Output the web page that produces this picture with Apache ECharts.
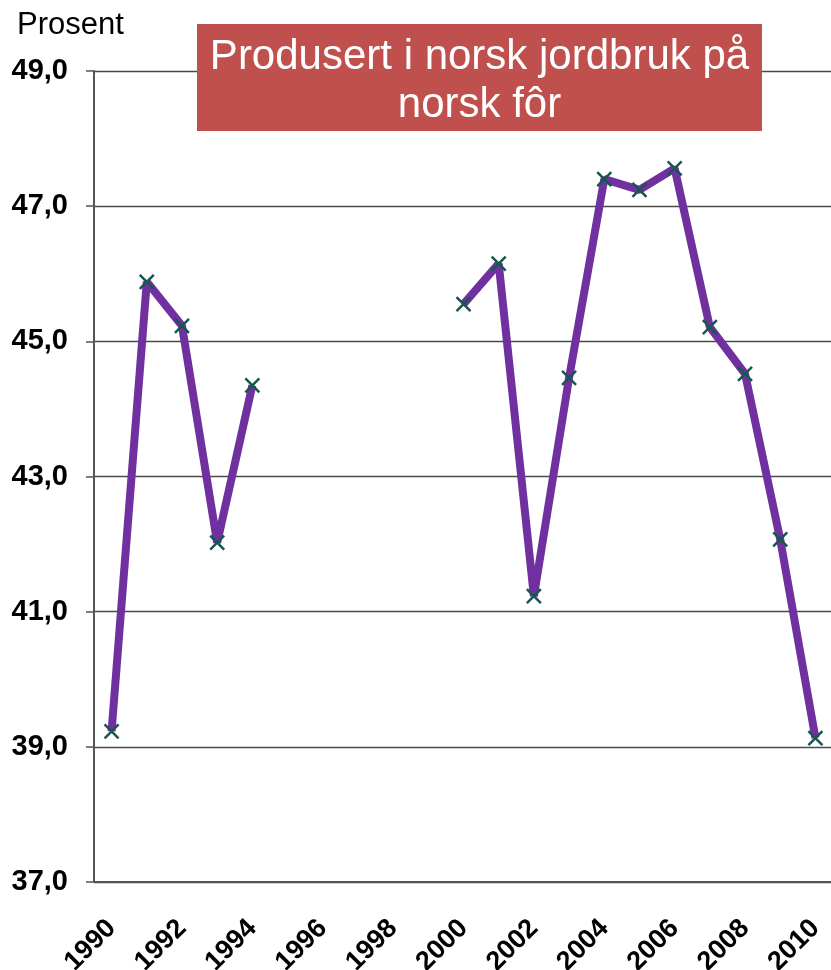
<!DOCTYPE html>
<html>
<head>
<meta charset="utf-8">
<script src="https://cdn.jsdelivr.net/npm/echarts@6/dist/echarts.min.js"></script>
<style>
  html, body { margin: 0; padding: 0; background: #fff; }
  #chart { width: 831px; height: 970px; }
</style>
</head>
<body>
<div id="chart"></div>
<script>
// years on the x axis
const years = ['1990', '1991', '1992', '1993', '1994', '1995', '1996', '1997', '1998', '1999',
  '2000', '2001', '2002', '2003', '2004', '2005', '2006', '2007', '2008', '2009', '2010'];

// share produced in Norwegian farming on Norwegian feed (percent), gap 1995-1999
const shareValues = [39.23, 45.88, 45.23, 42.02, 44.35, null, null, null, null, null,
  45.55, 46.15, 41.23, 44.46, 47.40, 47.24, 47.56, 45.21, 44.52, 42.07, 39.13];

const titleLines = ['Produsert i norsk jordbruk på', 'norsk fôr'];
const unitLabel = 'Prosent';

const chart = echarts.init(document.getElementById('chart'));

const option = {
  animation: false,
  backgroundColor: '#fff',
  grid: { left: 94, right: -2, top: 71, bottom: 88, outerBoundsMode: 'none' },
  xAxis: {
    type: 'category',
    data: years,
    boundaryGap: true,
    axisLine: { lineStyle: { color: '#555', width: 2 } },
    axisTick: { interval: 0, length: 8, lineStyle: { color: '#555', width: 1.5 } },
    axisLabel: {
      interval: 1,
      rotate: 45,
      margin: 42,
      color: '#000',
      fontFamily: 'Liberation Sans, Arial, sans-serif',
      fontWeight: 'bold',
      fontSize: 27
    },
    splitLine: { show: false }
  },
  yAxis: {
    type: 'value',
    min: 37,
    max: 49,
    interval: 2,
    axisLine: { show: true, lineStyle: { color: '#555', width: 2 } },
    axisTick: { show: true, length: 8, lineStyle: { color: '#555', width: 1.5 } },
    axisLabel: {
      margin: 26,
      color: '#000',
      fontFamily: 'Liberation Sans, Arial, sans-serif',
      fontWeight: 'bold',
      fontSize: 29,
      formatter: v => v.toFixed(1).replace('.', ',')
    },
    splitLine: { lineStyle: { color: '#4a4a4a', width: 1.3 } }
  },
  graphic: [
    {
      type: 'text',
      left: 17,
      top: 10,
      style: {
        text: unitLabel,
        fill: '#000',
        font: '31px "Liberation Sans", Arial, sans-serif'
      }
    },
    {
      type: 'rect',
      left: 197,
      top: 24,
      z: 10,
      shape: { width: 565, height: 107 },
      style: { fill: '#C0504D' }
    },
    {
      type: 'text',
      z: 11,
      x: 479.5,
      y: 81,
      style: {
        text: titleLines.join('\n'),
        fill: '#fff',
        align: 'center',
        verticalAlign: 'middle',
        lineHeight: 48,
        font: '42px "Liberation Sans", Arial, sans-serif'
      }
    }
  ],
  series: [
    {
      name: 'Prosent',
      type: 'line',
      data: shareValues,
      connectNulls: false,
      symbol: 'path://M0,0L10,10M10,0L0,10',
      symbolSize: 14,
      showAllSymbol: true,
      lineStyle: { color: '#7030A0', width: 8 },
      itemStyle: { color: 'none', borderColor: '#17574F', borderWidth: 2.5 },
      z: 3
    }
  ]
};

chart.setOption(option);
</script>
</body>
</html>
